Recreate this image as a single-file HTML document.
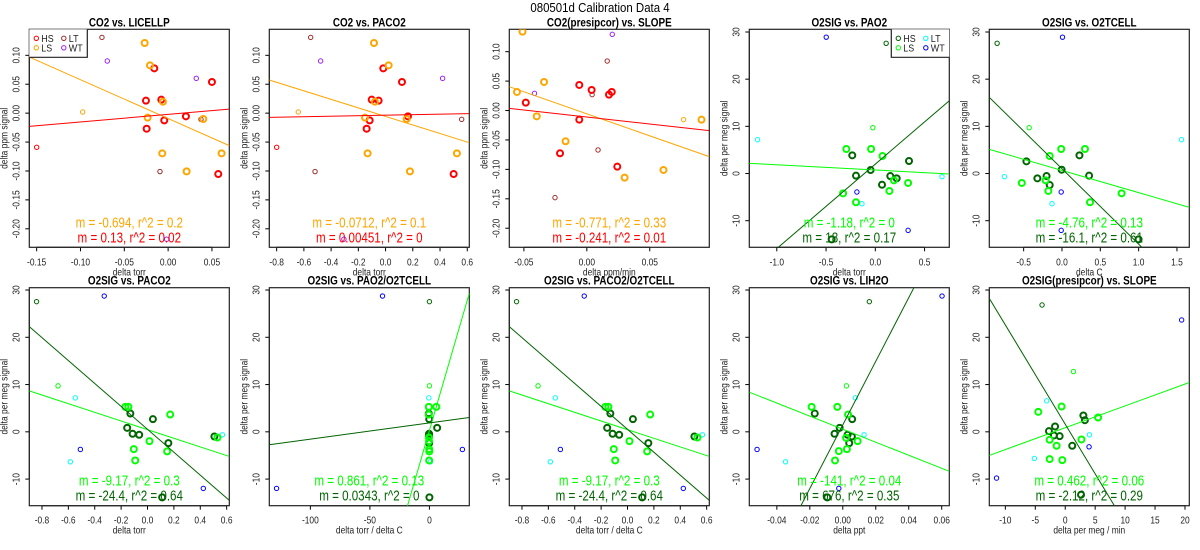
<!DOCTYPE html>
<html><head><meta charset="utf-8"><style>
html,body{margin:0;padding:0;background:#fff;width:1200px;height:550px;overflow:hidden;}
svg{display:block;font-family:"Liberation Sans",Arial,sans-serif;}
</style></head><body>
<svg id="chart" width="1200" height="550" viewBox="0 0 1200 550">
<text x="600" y="12" text-anchor="middle" font-size="13">080501d   Calibration Data 4</text>
</svg>
<script>
// ---------------- data ----------------
const P1_HS_X=[-0.0158,0.05,-0.0253,-0.0078,-0.0044,0.0203,-0.0245,0.0572];
const P1_HS_Y=[0.0775,0.0539,0.0216,0.0233,-0.0125,-0.0055,-0.0269,-0.1053];
const P1_LS_X=[-0.0268,-0.0207,-0.0059,-0.0234,0.0401,-0.0067,0.0211,0.061];
const P1_LS_Y=[0.1213,0.0827,0.0198,-0.0078,-0.0101,-0.0695,-0.1007,-0.0695];
const P1_SM_X=[-0.0975,-0.15,-0.0755,-0.0093,0.0375,-0.0694,0.0321,-0.0017];
const P1_SM_Y=[0.002,-0.059,0.131,-0.101,-0.0107,0.0902,0.0602,-0.218];
const P1_SM_G=['LS','HS','LT','LT','LT','WT','WT','WT'];
const P1_FIT_M=[-0.671,0.131];
const P1_FIT_B=[-0.0093,-0.0021];

const P2_HS_X=[-0.0166,0.1205,-0.102,-0.051,-0.117,0.1645,-0.139,0.5];
const P2_HS_Y=[0.0775,0.0539,0.0233,0.0216,-0.0125,-0.0055,-0.0269,-0.1053];
const P2_LS_X=[-0.085,0.0225,-0.078,-0.151,0.155,-0.132,0.179,0.524];
const P2_LS_Y=[0.1213,0.0827,0.0198,-0.0078,-0.0101,-0.0695,-0.1007,-0.0695];
const P2_SM_X=[-0.641,-0.8,-0.55,-0.518,0.559,-0.477,0.419,-0.306];
const P2_SM_Y=[0.002,-0.059,0.131,-0.101,-0.0107,0.0902,0.0602,-0.218];
const P2_SM_G=['LS','HS','LT','LT','LT','WT','WT','WT'];
const P2_FIT_M=[-0.0738,0.0044];
const P2_FIT_B=[-0.0057,-0.0035];

const P3_HS_X=[-0.0485,-0.006,0.0038,0.0198,0.0176,-0.006,-0.0213,0.0242];
const P3_HS_Y=[0.0134,0.0434,0.0349,0.0315,0.027,-0.0155,-0.0727,-0.0954];
const P3_LS_X=[-0.0511,-0.0555,-0.034,-0.0398,-0.0169,0.03,0.0609,0.0911];
const P3_LS_Y=[0.134,0.0315,0.0485,-0.0099,-0.0523,-0.114,-0.101,-0.0155];
const P3_SM_X=[0.0769,0.0202,-0.0416,0.0162,0.0042,0.0089,-0.0253];
const P3_SM_Y=[-0.0155,0.1294,0.0292,0.0841,0.027,-0.067,-0.148];
const P3_SM_G=['LS','WT','WT','LT','LT','LT','LT'];
const P3_FIT_M=[-0.748,-0.238];
const P3_FIT_B=[-0.0056,-0.0110];

const P4_HS_X=[-0.234,-0.196,-0.048,0.068,0.152,0.217,0.342,-0.443];
const P4_HS_Y=[3.85,-0.46,0.74,-2.37,-0.53,-1.02,2.65,-13.96];
const P4_LS_X=[-0.294,-0.043,0.073,-0.327,-0.196,0.143,0.189,0.333];
const P4_LS_Y=[5.2,5.2,3.7,-4.2,-6.1,-3.7,-1.45,-2.0];
const P4_SM_X=[0.11,-0.025,-1.195,-0.136,0.677,-0.498,-0.187,0.333];
const P4_SM_Y=[27.6,9.72,7.17,-6.4,-0.67,28.9,-3.92,-12.05];
const P4_SM_G=['HS','LS','LT','LT','LT','WT','WT','WT'];
const P4_FIT_M=[-1.11,17.9];
const P4_FIT_B=[0.74,1.99];

const P5_HS_X=[-0.464,-0.321,-0.201,-0.16,-0.004,0.228,0.354,0.999];
const P5_HS_Y=[2.58,-1.02,-0.53,-2.44,0.81,3.85,-0.46,-13.96];
const P5_LS_X=[-0.01,0.30,-0.16,-0.524,-0.213,-0.178,0.366,0.778];
const P5_LS_Y=[5.2,5.2,3.7,-2.0,-1.45,-3.7,-6.1,-4.2];
const P5_SM_X=[-0.846,-0.428,-0.751,-0.13,1.56,0.007,-0.01,-0.01];
const P5_SM_Y=[27.6,9.72,-0.67,-6.4,7.17,28.9,-3.92,-12.05];
const P5_SM_G=['HS','LS','LT','LT','LT','WT','WT','WT'];
const P5_FIT_M=[-4.71,-15.97];
const P5_FIT_B=[0.655,1.01];

const P6_HS_X=[-0.13,-0.154,-0.113,-0.063,0.041,0.158,0.507,0.111];
const P6_HS_Y=[3.87,0.845,-0.42,-0.63,2.68,-2.39,-0.99,-13.87];
const P6_LS_X=[-0.168,-0.145,0.172,0.015,-0.104,-0.093,0.149,0.53];
const P6_LS_Y=[5.28,5.28,3.66,-1.97,-3.66,-6.06,-4.15,-1.2];
const P6_SM_X=[-0.841,-0.678,-0.547,-0.585,0.568,-0.328,-0.509,0.423];
const P6_SM_Y=[27.54,9.72,7.18,-6.34,-0.63,28.73,-3.73,-11.97];
const P6_SM_G=['HS','LS','LT','LT','LT','WT','WT','WT'];
const P6_FIT_M=[-9.15,-24.24];
const P6_FIT_B=[0.46,0.53];

const P7_HS_X=[-0.5,6.5,-0.3,-0.3,-0.2,-0.2,-0.4,0];
const P7_HS_Y=[3.87,0.845,-0.42,-0.63,2.68,-2.39,-0.99,-13.87];
const P7_LS_X=[-0.5,5.8,-0.6,-0.3,-0.2,-0.2,-0.1,-0.4];
const P7_LS_Y=[5.28,5.28,3.66,-1.97,-3.66,-6.06,-4.15,-1.2];
const P7_SM_X=[0,0,-0.5,0.8,-0.5,-39.4,-128.4,27.7];
const P7_SM_Y=[27.54,9.72,7.18,-6.34,-0.63,28.73,-11.97,-3.73];
const P7_SM_G=['HS','LS','LT','LT','LT','WT','WT','WT'];
const P7_FIT_M=[0.866,0.0344];
const P7_FIT_B=[0.3,1.88];

const P9_HS_X=[-0.017,-0.0019,-0.005,0.0055,0.0039,0.0029,0.0057,-0.0094];
const P9_HS_Y=[3.87,0.845,-0.42,-0.99,-2.39,-0.63,2.68,-13.87];
const P9_LS_X=[-0.0189,-0.0033,0.0032,0.002,0.009,-0.0024,0.0025,-0.0047];
const P9_LS_Y=[5.28,5.28,3.66,-1.27,-1.97,-4.08,-3.66,-6.06];
const P9_SM_X=[0.0161,0.0022,0.0076,-0.0347,0.0129,0.0602,-0.052,-0.0024];
const P9_SM_Y=[27.54,9.72,7.18,-6.34,-0.63,28.73,-3.73,-11.97];
const P9_SM_G=['HS','LS','LT','LT','LT','WT','WT','WT'];
const P9_FIT_M=[-138,673];
const P9_FIT_B=[0.56,1.46];

const P10_HS_X=[-2.72,-1.7,-1.89,-0.93,3.03,3.28,1.17,2.64];
const P10_HS_Y=[0.14,1.13,-0.77,-0.92,3.45,2.46,-2.96,-13.31];
const P10_LS_X=[-4.5,-0.61,5.49,-2.6,2.71,-1.44,-2.6,-0.49];
const P10_LS_Y=[4.23,5.35,3.03,-1.69,-1.62,-2.96,-5.77,-5.99];
const P10_SM_X=[-3.87,1.37,-3.1,-5.15,4.05,19.44,-11.47,3.98];
const P10_SM_Y=[26.83,12.75,6.55,-5.63,-0.63,23.66,-9.79,-3.17];
const P10_SM_G=['HS','LS','LT','LT','LT','WT','WT','WT'];
const P10_FIT_M=[0.462,-2.10];
const P10_FIT_B=[0.86,1.61];

const TICKS_CO2_Y=[-0.20,-0.15,-0.10,-0.05,0.00,0.05,0.10];
const TICKS_O2_Y=[-10,0,10,20,30];
const TICKS_P1_X=[-0.15,-0.10,-0.05,0.00,0.05];
const TICKS_TORR_X=[-0.8,-0.6,-0.4,-0.2,0.0,0.2,0.4,0.6];
const TICKS_P3_X=[-0.05,0.00,0.05];
const TICKS_P4_X=[-1.0,-0.5,0.0,0.5];
const TICKS_P5_X=[-0.5,0.0,0.5,1.0,1.5];
const TICKS_P7_X=[-100,-50,0];
const TICKS_P9_X=[-0.04,-0.02,0.00,0.02,0.04,0.06];
const TICKS_P10_X=[-10,-5,0,5,10,15,20];

const TITLES=['CO2 vs. LICELLP','CO2 vs. PACO2','CO2(presipcor) vs. SLOPE','O2SIG vs. PAO2','O2SIG vs. O2TCELL','O2SIG vs. PACO2','O2SIG vs. PAO2/O2TCELL','O2SIG vs. PACO2/O2TCELL','O2SIG vs. LIH2O','O2SIG(presipcor) vs. SLOPE'];
const XLABELS=['delta torr','delta torr','delta ppm/min','delta torr','delta C','delta torr','delta torr / delta C','delta torr / delta C','delta ppt','delta per meg / min'];
const FIT_TEXT_LS=['m = -0.694, r^2 = 0.2','m = -0.0712, r^2 = 0.1','m = -0.771, r^2 = 0.33','m = -1.18, r^2 = 0','m = -4.76, r^2 = 0.13','m = -9.17, r^2 = 0.3','m = 0.861, r^2 = 0.13','m = -9.17, r^2 = 0.3','m = -141, r^2 = 0.04','m = 0.462, r^2 = 0.06'];
const FIT_TEXT_HS=['m = 0.13, r^2 = 0.02','m = 0.00451, r^2 = 0','m = -0.241, r^2 = 0.01','m = 18, r^2 = 0.17','m = -16.1, r^2 = 0.61','m = -24.4, r^2 = 0.64','m = 0.0343, r^2 = 0','m = -24.4, r^2 = 0.64','m = 676, r^2 = 0.35','m = -2.12, r^2 = 0.29'];

// ---------------- drawing ----------------
const NS='http://www.w3.org/2000/svg';
const svg=document.getElementById('chart');
const COL_CO2={HS:'#ff0000',LS:'#ffa500',LT:'#a52a2a',WT:'#a020f0'};
const COL_O2={HS:'#006400',LS:'#00ff00',LT:'#00ffff',WT:'#0000ff'};
function mk(tag,attrs,parent){const e=document.createElementNS(NS,tag);for(const k in attrs)e.setAttribute(k,attrs[k]);(parent||svg).appendChild(e);return e;}
function squeeze(t,f){try{const l=t.getComputedTextLength();if(l>0){t.setAttribute('textLength',(l*f).toFixed(1));t.setAttribute('lengthAdjust','spacingAndGlyphs');}}catch(e){}}
function fmt(v,d){return v.toFixed(d);}

const mainT=svg.querySelector('text');squeeze(mainT,0.88);

function drawPanel(idx,col,row,d){
  const L=29.3+240*col, R=L+200, T=row===0?29.3:287.7, B=T+218;
  const g=mk('g',{});
  
  
  const sx=v=>L+(v-d.xlim[0])/(d.xlim[1]-d.xlim[0])*(R-L);
  const sy=v=>B-(v-d.ylim[0])/(d.ylim[1]-d.ylim[0])*(B-T);
  const cid='clip'+idx;
  const cp=mk('clipPath',{id:cid},g);mk('rect',{x:L,y:T,width:R-L,height:B-T},cp);
  const tt=mk('text',{x:(L+R)/2,y:T-3,'text-anchor':'middle','font-size':11.5,'font-weight':'bold'},g);
  tt.textContent=TITLES[idx];
  
  
  squeeze(tt,0.86);
  const xa=mk('g',{},g);
  
  
  mk('line',{x1:sx(d.xt[0]),x2:sx(d.xt[d.xt.length-1]),y1:B,y2:B,stroke:'#000','stroke-width':1},xa);
  d.xt.forEach(v=>{
    mk('line',{x1:sx(v),x2:sx(v),y1:B,y2:B+4,stroke:'#000','stroke-width':1},xa);
    const t=mk('text',{x:sx(v),y:B+18,'text-anchor':'middle','font-size':10.5,fill:'#222'},xa);
    t.textContent=fmt(v,d.xd);
    
    
    squeeze(t,0.8);
  });
  const xl=mk('text',{x:(L+R)/2,y:B+28,'text-anchor':'middle','font-size':10.5,fill:'#222'},g);
  xl.textContent=XLABELS[idx];
  
  
  squeeze(xl,0.8);
  const ya=mk('g',{},g);
  
  
  mk('line',{x1:L,x2:L,y1:sy(d.yt[0]),y2:sy(d.yt[d.yt.length-1]),stroke:'#000','stroke-width':1},ya);
  d.yt.forEach(v=>{
    mk('line',{x1:L-4,x2:L,y1:sy(v),y2:sy(v),stroke:'#000','stroke-width':1},ya);
    const tx=L-10, ty=sy(v);
    const t=mk('text',{x:tx,y:ty,'text-anchor':'middle','font-size':10.5,fill:'#222',transform:`rotate(-90 ${tx} ${ty})`},ya);
    t.textContent=fmt(v,d.yd);
    
    
    squeeze(t,0.8);
  });
  const ylx=L-22, yly=(T+B)/2;
  const yl=mk('text',{x:ylx,y:yly,'text-anchor':'middle','font-size':10.5,fill:'#222',transform:`rotate(-90 ${ylx} ${yly})`},g);
  yl.textContent=d.ylab;
  
  
  squeeze(yl,0.8);
  const bx=mk('rect',{x:L,y:T,width:R-L,height:B-T,fill:'none',stroke:'#222','stroke-width':1.2},g);
  
  
  const inner=mk('g',{'clip-path':`url(#${cid})`},g);
  d.smx.forEach((x,i)=>{
    const c=mk('circle',{cx:sx(x),cy:sy(d.smy[i]),r:2.2,fill:'none',stroke:d.col[d.smg[i]],'stroke-width':1},inner);
    
    
  });
  d.hx.forEach((x,i)=>{
    const c=mk('circle',{cx:sx(x),cy:sy(d.hy[i]),r:3,fill:'none',stroke:d.col.HS,'stroke-width':2},inner);
    
    
  });
  d.lx.forEach((x,i)=>{
    const c=mk('circle',{cx:sx(x),cy:sy(d.ly[i]),r:3,fill:'none',stroke:d.col.LS,'stroke-width':2},inner);
    
    
  });
  const fcol=[d.col.LS,d.col.HS], fname=['fit-line-ls','fit-line-hs'];
  d.fm.forEach((m,i)=>{
    const x0=d.xlim[0], x1=d.xlim[1];
    const ln=mk('line',{x1:sx(x0),y1:sy(m*x0+d.fb[i]),x2:sx(x1),y2:sy(m*x1+d.fb[i]),stroke:fcol[i],'stroke-width':1},inner);
    
    
  });
  const t1=mk('text',{x:(L+R)/2,y:T+198,'text-anchor':'middle','font-size':14.5,fill:d.col.LS},g);
  t1.textContent=FIT_TEXT_LS[idx];
  
  
  squeeze(t1,0.8);
  const t2=mk('text',{x:(L+R)/2,y:T+213,'text-anchor':'middle','font-size':14.5,fill:d.col.HS},g);
  t2.textContent=FIT_TEXT_HS[idx];
  
  
  squeeze(t2,0.8);
  if(d.legend){
    const lw=58, lh=28;
    const lx=d.legend==='left'?L:R-lw, ly=T;
    const lg=mk('g',{},g);
    
    
    mk('rect',{x:lx,y:ly,width:lw,height:lh,fill:'#fff',stroke:'none'},lg);
    mk('path',{d:d.legend==='left'?`M${lx} ${ly+lh}H${lx+lw}V${ly}`:`M${lx} ${ly}V${ly+lh}H${lx+lw}`,fill:'none',stroke:'#222','stroke-width':1.2},lg);
    const labs=[['HS',0,0],['LS',0,1],['LT',1,0],['WT',1,1]];
    labs.forEach(([k,c,r])=>{
      const ex=lx+7+c*27.5, ey=ly+9+r*9.5;
      const e=mk('g',{},lg);
      
      
      mk('circle',{cx:ex,cy:ey,r:2.2,fill:'none',stroke:d.col[k],'stroke-width':1},e);
      const t=mk('text',{x:ex+5,y:ey+3.7,'font-size':10.5,fill:'#222'},e);
      t.textContent=k;
      squeeze(t,0.85);
    });
  }
}

const CO2Y={ylim:[-0.232,0.145],yt:TICKS_CO2_Y,yd:2,ylab:'delta ppm signal',col:COL_CO2};
const O2Y1={ylim:[-15.64,30.57],yt:TICKS_O2_Y,yd:0,ylab:'delta per meg signal',col:COL_O2};
const O2Y2={ylim:[-15.63,30.49],yt:TICKS_O2_Y,yd:0,ylab:'delta per meg signal',col:COL_O2};

drawPanel(0,0,0,Object.assign({},CO2Y,{xlim:[-0.1584,0.0698],xt:TICKS_P1_X,xd:2,hx:P1_HS_X,hy:P1_HS_Y,lx:P1_LS_X,ly:P1_LS_Y,smx:P1_SM_X,smy:P1_SM_Y,smg:P1_SM_G,fm:P1_FIT_M,fb:P1_FIT_B,legend:'left'}));
drawPanel(1,1,0,Object.assign({},CO2Y,{xlim:[-0.854,0.615],xt:TICKS_TORR_X,xd:1,hx:P2_HS_X,hy:P2_HS_Y,lx:P2_LS_X,ly:P2_LS_Y,smx:P2_SM_X,smy:P2_SM_Y,smg:P2_SM_G,fm:P2_FIT_M,fb:P2_FIT_B}));
drawPanel(2,2,0,Object.assign({},CO2Y,{ylim:[-0.2324,0.138],xlim:[-0.0616,0.0973],xt:TICKS_P3_X,xd:2,hx:P3_HS_X,hy:P3_HS_Y,lx:P3_LS_X,ly:P3_LS_Y,smx:P3_SM_X,smy:P3_SM_Y,smg:P3_SM_G,fm:P3_FIT_M,fb:P3_FIT_B}));
drawPanel(3,3,0,Object.assign({},O2Y1,{xlim:[-1.279,0.751],xt:TICKS_P4_X,xd:1,hx:P4_HS_X,hy:P4_HS_Y,lx:P4_LS_X,ly:P4_LS_Y,smx:P4_SM_X,smy:P4_SM_Y,smg:P4_SM_G,fm:P4_FIT_M,fb:P4_FIT_B,legend:'right'}));
drawPanel(4,4,0,Object.assign({},O2Y1,{xlim:[-0.948,1.661],xt:TICKS_P5_X,xd:1,hx:P5_HS_X,hy:P5_HS_Y,lx:P5_LS_X,ly:P5_LS_Y,smx:P5_SM_X,smy:P5_SM_Y,smg:P5_SM_G,fm:P5_FIT_M,fb:P5_FIT_B}));
drawPanel(5,0,1,Object.assign({},O2Y2,{xlim:[-0.896,0.62],xt:TICKS_TORR_X,xd:1,hx:P6_HS_X,hy:P6_HS_Y,lx:P6_LS_X,ly:P6_LS_Y,smx:P6_SM_X,smy:P6_SM_Y,smg:P6_SM_G,fm:P6_FIT_M,fb:P6_FIT_B}));
drawPanel(6,1,1,Object.assign({},O2Y2,{xlim:[-134.5,33.5],xt:TICKS_P7_X,xd:0,hx:P7_HS_X,hy:P7_HS_Y,lx:P7_LS_X,ly:P7_LS_Y,smx:P7_SM_X,smy:P7_SM_Y,smg:P7_SM_G,fm:P7_FIT_M,fb:P7_FIT_B}));
drawPanel(7,2,1,Object.assign({},O2Y2,{xlim:[-0.896,0.62],xt:TICKS_TORR_X,xd:1,hx:P6_HS_X,hy:P6_HS_Y,lx:P6_LS_X,ly:P6_LS_Y,smx:P6_SM_X,smy:P6_SM_Y,smg:P6_SM_G,fm:P6_FIT_M,fb:P6_FIT_B}));
drawPanel(8,3,1,Object.assign({},O2Y2,{xlim:[-0.0567,0.0646],xt:TICKS_P9_X,xd:2,hx:P9_HS_X,hy:P9_HS_Y,lx:P9_LS_X,ly:P9_LS_Y,smx:P9_SM_X,smy:P9_SM_Y,smg:P9_SM_G,fm:P9_FIT_M,fb:P9_FIT_B}));
drawPanel(9,4,1,Object.assign({},O2Y2,{xlim:[-12.68,20.72],xt:TICKS_P10_X,xd:0,hx:P10_HS_X,hy:P10_HS_Y,lx:P10_LS_X,ly:P10_LS_Y,smx:P10_SM_X,smy:P10_SM_Y,smg:P10_SM_G,fm:P10_FIT_M,fb:P10_FIT_B}));
</script>
</body></html>
